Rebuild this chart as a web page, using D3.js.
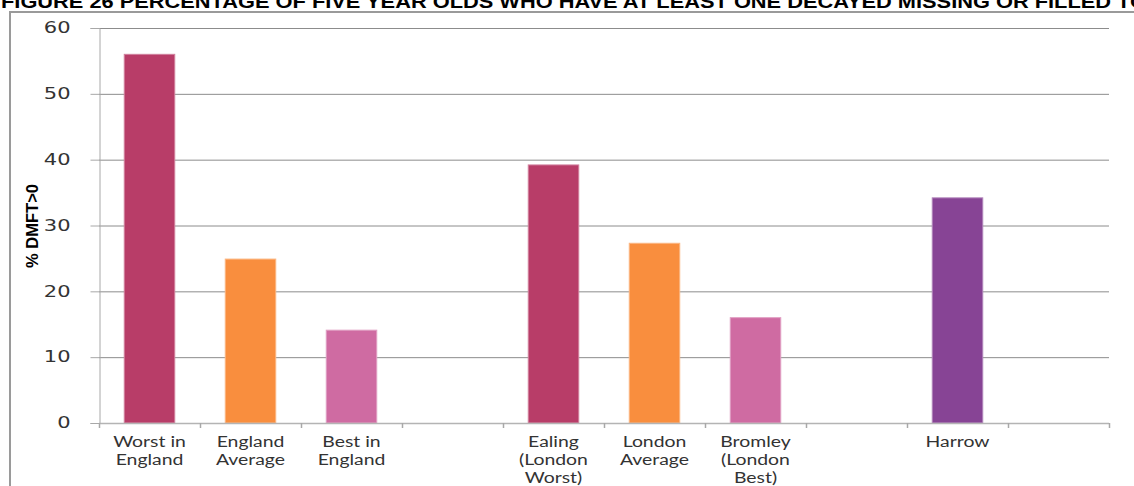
<!DOCTYPE html>
<html>
<head>
<meta charset="utf-8">
<script src="https://cdn.jsdelivr.net/npm/d3@7"></script>
<style>
  html, body { margin: 0; padding: 0; background: #fff; overflow: hidden; }
  svg { display: block; }
</style>
</head>
<body>
<script>
const categories = [
  ["Worst in", "England"],
  ["England", "Average"],
  ["Best in", "England"],
  [],
  ["Ealing", "(London", "Worst)"],
  ["London", "Average"],
  ["Bromley", "(London", "Best)"],
  [],
  ["Harrow"],
  []
];
const categoryKeys = ["worst", "engavg", "best", "gap1", "ealing", "lonavg", "bromley", "gap2", "harrow", "gap3"];
const values = [56.0, 24.9, 14.1, null, 39.2, 27.3, 16.0, null, 34.2, null];
const barColors = ["#B83D68", "#F98E3E", "#CF6BA2", null, "#B83D68", "#F98E3E", "#CF6BA2", null, "#874495", null];
const yTicks = [0, 10, 20, 30, 40, 50, 60];
const titleText = "FIGURE 26 PERCENTAGE OF FIVE YEAR OLDS WHO HAVE AT LEAST ONE DECAYED MISSING OR FILLED TO";
const yLabel = "% DMFT>0";

const W = 1134, H = 486;
const svg = d3.select("body").append("svg").attr("width", W).attr("height", H);

// horizontally stretch text (the reference is rendered wide)
function stretch(sel, f) {
  sel.each(function() {
    const len = this.getComputedTextLength();
    d3.select(this).attr("textLength", len * f).attr("lengthAdjust", "spacingAndGlyphs");
  });
}

// title (partially cut off at top)
svg.append("text")
  .attr("x", 1).attr("y", 8)
  .attr("font-family", "Liberation Sans, Arial, sans-serif")
  .attr("font-weight", "bold")
  .attr("font-size", 19)
  .attr("fill", "#000")
  .attr("textLength", 1146)
  .attr("lengthAdjust", "spacingAndGlyphs")
  .text(titleText);

// chart frame
svg.append("rect")
  .attr("x", 10).attr("y", 12)
  .attr("width", 1140).attr("height", 490)
  .attr("fill", "none").attr("stroke", "#9a9a9a").attr("stroke-width", 2);

const plot = { left: 99, right: 1109, top: 28, bottom: 423 };

const x = d3.scaleBand().domain(categoryKeys).range([plot.left, plot.right]).paddingInner(0.5).paddingOuter(0.25);
const y = d3.scaleLinear().domain([0, 60]).range([plot.bottom, plot.top]);

// gridlines
svg.append("g").selectAll("line").data(yTicks.filter(d => d > 0)).join("line")
  .attr("x1", plot.left).attr("x2", plot.right)
  .attr("y1", d => y(d) + 0.5).attr("y2", d => y(d) + 0.5)
  .attr("stroke", "#8c8c8c").attr("stroke-width", 1);

// y axis
const yAxis = svg.append("g").attr("transform", `translate(${plot.left + 0.5},0)`)
  .call(d3.axisLeft(y).tickValues(yTicks).tickSize(9).tickPadding(20));
yAxis.select(".domain").attr("stroke", "#a8a8a8");
yAxis.selectAll(".tick line").attr("stroke", "#a8a8a8");
yAxis.selectAll(".tick text")
  .attr("font-family", "DejaVu Sans, Verdana, sans-serif")
  .attr("font-size", 15).attr("fill", "#333")
  .call(stretch, 1.4);

// bars
svg.append("g").selectAll("rect").data(categoryKeys.map((k, i) => ({ k, v: values[i], c: barColors[i] })).filter(d => d.v !== null))
  .join("rect")
  .attr("x", d => x(d.k))
  .attr("y", d => y(d.v))
  .attr("width", x.bandwidth())
  .attr("height", d => y(0) - y(d.v))
  .attr("fill", d => d.c)
  .attr("stroke", d => d3.interpolateRgb(d.c, "#fff")(0.35))
  .attr("stroke-width", 1);

// x axis
const slot = (plot.right - plot.left) / categoryKeys.length;
const xAxisG = svg.append("g");
xAxisG.append("line")
  .attr("x1", plot.left).attr("x2", plot.right)
  .attr("y1", plot.bottom + 0.5).attr("y2", plot.bottom + 0.5)
  .attr("stroke", "#b4b4b4").attr("stroke-width", 1.5);
xAxisG.selectAll("line.tk").data(d3.range(categoryKeys.length + 1)).join("line")
  .attr("class", "tk")
  .attr("x1", i => plot.left + i * slot + 0.5).attr("x2", i => plot.left + i * slot + 0.5)
  .attr("y1", plot.bottom).attr("y2", plot.bottom + 5)
  .attr("stroke", "#a8a8a8").attr("stroke-width", 1.5);

const labels = xAxisG.selectAll("text.lbl").data(categoryKeys.map((k, i) => ({ k, lines: categories[i] }))).join("g");
labels.selectAll("text").data(d => d.lines.map((t, i) => ({ t, i, k: d.k }))).join("text")
  .attr("x", d => x(d.k) + x.bandwidth() / 2)
  .attr("y", d => 447 + d.i * 18)
  .attr("text-anchor", "middle")
  .attr("font-family", "Lato, Open Sans, sans-serif")
  .attr("font-size", 15.5)
  .attr("fill", "#333")
  .text(d => d.t)
  .call(stretch, 1.25);

// y label
svg.append("text")
  .attr("transform", "translate(38,226) rotate(-90)")
  .attr("text-anchor", "middle")
  .attr("font-family", "Liberation Sans, Arial, sans-serif")
  .attr("font-weight", "bold")
  .attr("font-size", 16.5)
  .attr("fill", "#000")
  .text(yLabel);
</script>
</body>
</html>
